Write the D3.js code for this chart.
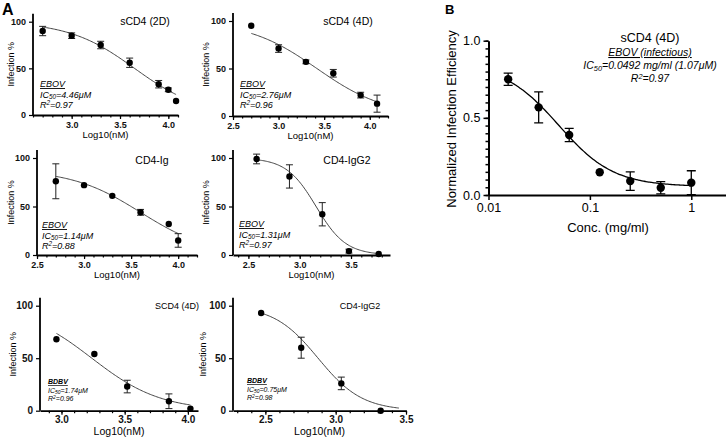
<!DOCTYPE html>
<html><head><meta charset="utf-8">
<script src="https://cdn.jsdelivr.net/npm/d3@7"></script>
<style>
body{margin:0;background:#fff;}
svg{display:block;font-family:"Liberation Sans",Arial,sans-serif;}
</style></head>
<body><svg id="c" width="726" height="443"></svg>
<script>
// ---------- DATA ----------
const panelTitles = ["sCD4 (2D)", "sCD4 (4D)", "CD4-Ig", "CD4-IgG2", "SCD4 (4D)", "CD4-IgG2"];
const panelVirus = ["EBOV", "EBOV", "EBOV", "EBOV", "BDBV", "BDBV"];
const panelIC50 = ["4.46μM", "2.76μM", "1.14μM", "1.31μM", "1.74μM", "0.75μM"];
const panelR2 = ["0.97", "0.96", "0.88", "0.97", "0.96", "0.98"];

const p1X = [2.7, 3.0, 3.3, 3.6, 3.9, 4.0, 4.08];
const p1Y = [90, 85, 75, 56, 33, 27, 15];
const p1E = [5, 3, 4, 5, 4, 2, 0];
const p2X = [2.7, 3.0, 3.3, 3.6, 3.9, 4.08];
const p2Y = [95, 71, 57, 45, 22, 13];
const p2E = [0, 4, 2, 4, 3, 9];
const p3X = [2.7, 3.0, 3.3, 3.6, 3.9, 4.0];
const p3Y = [76, 72, 61, 44, 32, 15];
const p3E = [18, 0, 0, 3, 0, 7];
const p4X = [2.58, 2.9, 3.22, 3.48, 3.77];
const p4Y = [99, 81, 42, 4, 1];
const p4E = [5, 12, 12, 2, 0];
const p5X = [2.96, 3.26, 3.52, 3.85, 4.02];
const p5Y = [68, 54, 23, 9, 2];
const p5E = [0, 0, 6, 7, 0];
const p6X = [2.47, 2.755, 3.04, 3.32];
const p6Y = [93, 60, 26, 0];
const p6E = [0, 10, 6, 0];

// Hill fit parameters per panel: top, bottom, logIC50, hill slope, x-range of fitted curve
const fitTop = [100, 100, 88, 100, 100, 100];
const fitBottom = [0, 0, 0, 0, 0, 0];
const fitLogIC50 = [3.65, 3.42, 3.6, 3.16, 3.24, 2.875];
const fitHill = [1.28, 1.144, 1.185, 3.0, 1.59, 2.77];
const fitFrom = [2.7, 2.7, 2.7, 2.58, 2.96, 2.47];
const fitTo = [4.08, 4.08, 4.0, 3.77, 4.02, 3.45];

// Panel B
const bConc = [0.015625, 0.03125, 0.0625, 0.125, 0.25, 0.5, 1];
const bEff = [0.75, 0.568, 0.389, 0.147, 0.09, 0.047, 0.08];
const bErr = [0.04, 0.1, 0.043, 0, 0.06, 0.04, 0.077];
const bFit = {top: 0.85, bottom: 0.055, logIC50: -1.308, hill: 1.6};
const xTicksA = [[3.0, 3.5, 4.0], [2.5, 3.0, 3.5, 4.0], [2.5, 3.0, 3.5, 4.0], [2.5, 3.0, 3.5], [3.0, 3.5, 4.0], [2.5, 3.0, 3.5]];
const yTicksA = [0, 50, 100];
const yTicksB = [0, 0.5, 1.0];
const xTicksB = [0.01, 0.1, 1];

// ---------- DRAW ----------
const svg = d3.select("#c");
const hill = (x, t, b, c, h) => b + (t - b) / (1 + Math.pow(10, (x - c) * h));

const layouts = [
  {x0: 33, x1: 178, y0: 115, y100: 21.7, dom: [2.6, 4.1], tx: 145, ty: 25, ax: 40, ay: 87, lh: 10.5, ylx: 12, fs: 9, tfs: 10.5, tk: 9, lfs: 9.5, loff: 23},
  {x0: 233, x1: 388, y0: 116, y100: 21, dom: [2.5, 4.2], tx: 348, ty: 25, ax: 240, ay: 87, lh: 10.5, ylx: 207, fs: 9, tfs: 10.5, tk: 9, lfs: 9.5, loff: 23},
  {x0: 37, x1: 197, y0: 255, y100: 158, dom: [2.5, 4.2], tx: 152, ty: 164, ax: 42, ay: 228, lh: 10.5, ylx: 12, fs: 9, tfs: 10.5, tk: 9, lfs: 9.5, loff: 23},
  {x0: 233, x1: 390, y0: 255, y100: 158, dom: [2.35, 3.88], tx: 347, ty: 164, ax: 239, ay: 227, lh: 10.5, ylx: 207, fs: 9, tfs: 10.5, tk: 9, lfs: 9.5, loff: 23},
  {x0: 40, x1: 198, y0: 410.7, y100: 305.7, dom: [2.83, 4.08], tx: 177, ty: 309, ax: 48, ay: 384, lh: 8.5, ylx: 14, fs: 7, tfs: 9, tk: 10, lfs: 10.5, loff: 24.5},
  {x0: 233, x1: 406, y0: 410.7, y100: 305.7, dom: [2.27, 3.5], tx: 360, ty: 309, ax: 247, ay: 383, lh: 8.5, ylx: 204, fs: 7, tfs: 9, tk: 10, lfs: 10.5, loff: 24.5}
];
const xs = [p1X, p2X, p3X, p4X, p5X, p6X];
const ys = [p1Y, p2Y, p3Y, p4Y, p5Y, p6Y];
const es = [p1E, p2E, p3E, p4E, p5E, p6E];

layouts.forEach((L, i) => {
  const g = svg.append("g");
  const x = d3.scaleLinear().domain(L.dom).range([L.x0, L.x1]);
  const yTop = L.y100 - 8;
  const y = d3.scaleLinear().domain([0, 100]).range([L.y0, L.y100]);
  const xa = g.append("g").attr("transform", `translate(0,${L.y0})`)
    .call(d3.axisBottom(x).tickValues(xTicksA[i]).tickFormat(d3.format(".1f")).tickSize(4).tickPadding(i >= 4 ? 1.5 : 3).tickSizeOuter(0));
  const minor = d3.range(Math.ceil(L.dom[0] * 10), Math.floor(L.dom[1] * 10) + 1).map(v => v / 10);
  g.append("g").attr("transform", `translate(0,${L.y0})`)
    .call(d3.axisBottom(x).tickValues(minor).tickFormat("").tickSize(2.5).tickSizeOuter(0))
    .select(".domain").remove();
  const ya = g.append("g").attr("transform", `translate(${L.x0},0)`)
    .call(d3.axisLeft(y).tickValues(yTicksA).tickSize(4).tickSizeOuter(0));
  ya.select(".domain").attr("d", `M0,${L.y0}V${yTop}`);
  [xa, ya].forEach(a => {
    a.select(".domain").attr("stroke-width", 1.8);
    a.selectAll(".tick text").attr("font-size", L.tk).attr("font-weight", "bold")
      .attr("font-family", "Liberation Sans, Arial").attr("fill", "#111");
  });
  g.selectAll("g.tick line").attr("stroke-width", 1.2);
  const cx = d3.range(0, 101).map(k => fitFrom[i] + (fitTo[i] - fitFrom[i]) * k / 100);
  g.append("path").attr("fill", "none").attr("stroke", "#444").attr("stroke-width", 1)
    .attr("d", d3.line().x(d => x(d)).y(d => y(hill(d, fitTop[i], fitBottom[i], fitLogIC50[i], fitHill[i]))).curve(d3.curveBasis)(cx));
  xs[i].forEach((xv, j) => {
    const e = es[i][j];
    if (e > 0) {
      const X = x(xv);
      g.append("path").attr("stroke", "#222").attr("stroke-width", 1).attr("fill", "none")
        .attr("d", `M${X},${y(ys[i][j] - e)}V${y(ys[i][j] + e)}M${X - 3.5},${y(ys[i][j] - e)}h7M${X - 3.5},${y(ys[i][j] + e)}h7`);
    }
    g.append("circle").attr("cx", x(xv)).attr("cy", y(ys[i][j])).attr("r", 3.2).attr("fill", "#000");
  });
  g.append("text").attr("x", L.tx).attr("y", L.ty).attr("text-anchor", "middle").attr("font-size", L.tfs).text(panelTitles[i]);
  g.append("text").attr("transform", `translate(${L.ylx},${(L.y0 + yTop) / 2}) rotate(-90)`).attr("text-anchor", "middle")
    .attr("font-size", 9).attr("dominant-baseline", "middle").text("Infection %");
  g.append("text").attr("x", (L.x0 + L.x1) / 2).attr("y", L.y0 + L.loff).attr("text-anchor", "middle").attr("font-size", L.lfs).text("Log10(nM)");
  const t = g.append("text").attr("x", L.ax).attr("y", L.ay).attr("font-size", L.fs).attr("font-style", "italic");
  t.append("tspan").attr("font-weight", i >= 4 ? "bold" : "normal").attr("text-decoration", "underline").text(panelVirus[i]);
  t.append("tspan").attr("x", L.ax).attr("dy", L.lh).text("IC");
  t.append("tspan").attr("font-size", L.fs * 0.7).attr("dy", 1).text("50");
  t.append("tspan").attr("dy", -1).text("=" + panelIC50[i]);
  t.append("tspan").attr("x", L.ax).attr("dy", L.lh).text("R");
  t.append("tspan").attr("font-size", L.fs * 0.7).attr("dy", -L.fs * 0.28).text("2");
  t.append("tspan").attr("dy", L.fs * 0.28).text("=" + panelR2[i]);
});

svg.append("text").attr("x", 2).attr("y", 14.5).attr("font-size", 16).attr("font-weight", "bold").text("A");
svg.append("text").attr("x", 445).attr("y", 14).attr("font-size", 13).attr("font-weight", "bold").text("B");

// Panel B
(function () {
  const g = svg.append("g");
  const x = d3.scaleLog().domain([0.01, 2.2]).range([488.5, 726]);
  const y = d3.scaleLinear().domain([0, 1]).range([195, 40.7]);
  const xa = g.append("g").attr("transform", "translate(0,195)")
    .call(d3.axisBottom(x).tickValues(xTicksB).tickFormat(d => d === 1 ? "1" : String(d)).tickSize(5).tickSizeOuter(0));
  const minorY = d3.range(0, 21).map(k => k / 20);
  g.append("g").attr("transform", "translate(488.5,0)")
    .call(d3.axisLeft(y).tickValues(minorY).tickFormat("").tickSize(3).tickSizeOuter(0)).select(".domain").remove();
  const ya = g.append("g").attr("transform", "translate(488.5,0)")
    .call(d3.axisLeft(y).tickValues(yTicksB).tickFormat(d3.format(".1f")).tickSize(5).tickSizeOuter(0));
  [xa, ya].forEach(a => {
    a.select(".domain").attr("stroke-width", 2);
    a.selectAll(".tick text").attr("font-size", 12.5).attr("fill", "#000");
  });
  g.selectAll(".tick line").attr("stroke-width", 1.5);
  const cx = d3.range(0, 101).map(k => Math.pow(10, Math.log10(bConc[0]) + (Math.log10(1) - Math.log10(bConc[0])) * k / 100));
  g.append("path").attr("fill", "none").attr("stroke", "#000").attr("stroke-width", 1.3)
    .attr("d", d3.line().x(d => x(d)).y(d => y(hill(Math.log10(d), bFit.top, bFit.bottom, bFit.logIC50, bFit.hill))).curve(d3.curveBasis)(cx));
  bConc.forEach((c, j) => {
    const X = x(c), e = bErr[j];
    if (e > 0) g.append("path").attr("stroke", "#000").attr("stroke-width", 1.3).attr("fill", "none")
      .attr("d", `M${X},${y(bEff[j] - e)}V${y(bEff[j] + e)}M${X - 4.5},${y(bEff[j] - e)}h9M${X - 4.5},${y(bEff[j] + e)}h9`);
    g.append("circle").attr("cx", X).attr("cy", y(bEff[j])).attr("r", 4.2).attr("fill", "#000");
  });
  g.append("text").attr("transform", "translate(453,119) rotate(-90)").attr("text-anchor", "middle").attr("dominant-baseline", "middle")
    .attr("font-size", 13).text("Normalized Infection Efficiency");
  g.append("text").attr("x", 608).attr("y", 232).attr("text-anchor", "middle").attr("font-size", 13).text("Conc. (mg/ml)");
  g.append("text").attr("x", 650).attr("y", 42).attr("text-anchor", "middle").attr("font-size", 12.5).text("sCD4 (4D)");
  const t = g.append("text").attr("x", 650).attr("y", 56).attr("text-anchor", "middle").attr("font-size", 10.5).attr("font-style", "italic");
  t.append("tspan").attr("text-decoration", "underline").text("EBOV (infectious)");
  t.append("tspan").attr("x", 650).attr("dy", 13).text("IC");
  t.append("tspan").attr("font-size", 7.35).attr("dy", 1.5).text("50");
  t.append("tspan").attr("dy", -1.5).text("=0.0492 mg/ml (1.07μM)");
  t.append("tspan").attr("x", 650).attr("dy", 13).text("R");
  t.append("tspan").attr("font-size", 7.35).attr("dy", -3).text("2");
  t.append("tspan").attr("dy", 3).text("=0.97");
})();
</script></body></html>
